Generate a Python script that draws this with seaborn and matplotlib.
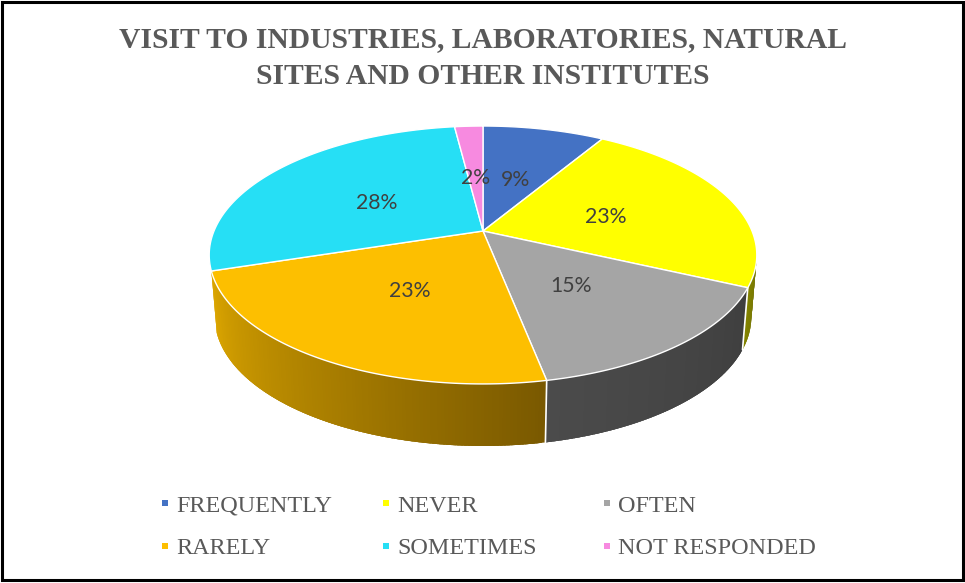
import numpy as np
import matplotlib
matplotlib.use('Agg')
import matplotlib.pyplot as plt
from matplotlib.patches import Rectangle
import seaborn as sns

title = 'VISIT TO INDUSTRIES, LABORATORIES, NATURAL\nSITES AND OTHER INSTITUTES'
categories = ['FREQUENTLY', 'NEVER', 'OFTEN', 'RARELY', 'SOMETIMES', 'NOT RESPONDED']
shares = [8.6, 23.3, 15.0, 23.2, 27.9, 2.0]

top_colors = ['#4472c4', '#ffff00', '#a5a5a5', '#fdbf00', '#26dff5', '#f78ae0']
wall_colors = [('#2a4578', '#2a4578'), ('#6f6f00', '#858500'), ('#3f3f3f', '#4b4b4b'),
               ('#7a5900', '#dca600'), ('#dca600', '#dca600'), ('#8a4f7e', '#8a4f7e')]

# layout of the tilted pie, in pixels
cx, cy = 483, 231
k = 0.186
ry_scale, rx_scale = 124.5, 269
depth = 62


def project(t, r=1.0, drop=0, squeeze=1.0):
    # t is clockwise from the top, in radians
    x = r * np.sin(t)
    y = r * np.cos(t)
    w = 1 + k * y
    return cx + squeeze * rx_scale * x / w, cy - ry_scale * y / w + drop


sns.set_theme(style='white')
fig = plt.figure(figsize=(9.65, 5.83), dpi=100)
ax = fig.add_axes([0, 0, 1, 1])
ax.set_xlim(0, 965)
ax.set_ylim(583, 0)
ax.axis('off')

edges = np.cumsum([0] + shares) / sum(shares) * 2 * np.pi
vis_start, vis_end = np.radians(100), edges[4]

# side wall first, the top covers whatever is behind
for i in range(len(shares)):
    a = max(edges[i], vis_start)
    b = min(edges[i + 1], vis_end)
    if a >= b:
        continue
    n = max(int((b - a) * 90), 2)
    shades = sns.blend_palette(list(wall_colors[i]), n)
    ts = np.linspace(a, b, n + 1)
    for j in range(n):
        # each strip overlaps the next so no gaps show between them
        seg = np.linspace(ts[j], min(ts[j + 1] + 0.02, b), 4)
        x1, y1 = project(seg)
        x2, y2 = project(seg[::-1], drop=depth, squeeze=0.98)
        ax.fill(np.r_[x1, x2], np.r_[y1, y2], color=shades[j], lw=0, zorder=1)
    # white seam at the end of a wedge
    if vis_start < edges[i + 1] < vis_end:
        x1, y1 = project(edges[i + 1])
        x2, y2 = project(edges[i + 1], drop=depth, squeeze=0.98)
        ax.plot([x1, x2], [y1, y2], color='white', lw=1.2, zorder=2)

# top face
for i in range(len(shares)):
    ts = np.linspace(edges[i], edges[i + 1], 120)
    x, y = project(ts)
    ax.fill(np.r_[cx, x], np.r_[cy, y], facecolor=top_colors[i], edgecolor='white', lw=1.0, zorder=3)

# percent labels
for i, share in enumerate(shares):
    mid = (edges[i] + edges[i + 1]) / 2
    x, y = project(mid, r=0.49)
    ax.text(x, y + 3, f'{share:.0f}%', ha='center', va='center', fontsize=15.3, family='Lato',
            color='#404040', zorder=4)

ax.text(483, 58, title, ha='center', va='center', fontsize=21.3, family='Liberation Serif',
        fontweight='bold', color='#595959', linespacing=1.47)

# legend, two rows of three
col_x = [165, 386, 607]
row_y = [503, 546]
for i, name in enumerate(categories):
    lx = col_x[i % 3]
    ly = row_y[i // 3]
    ax.scatter([lx], [ly], marker='s', s=14, color=top_colors[i], linewidths=0)
    ax.text(lx + 11, ly + 3, name, ha='left', va='center', fontsize=17.4,
            family='Liberation Serif', color='#595959')

ax.add_patch(Rectangle((1.5, 1.5), 961, 578, fill=False, edgecolor='black', lw=2.2, zorder=5))

fig.savefig('out.png', dpi=100)
